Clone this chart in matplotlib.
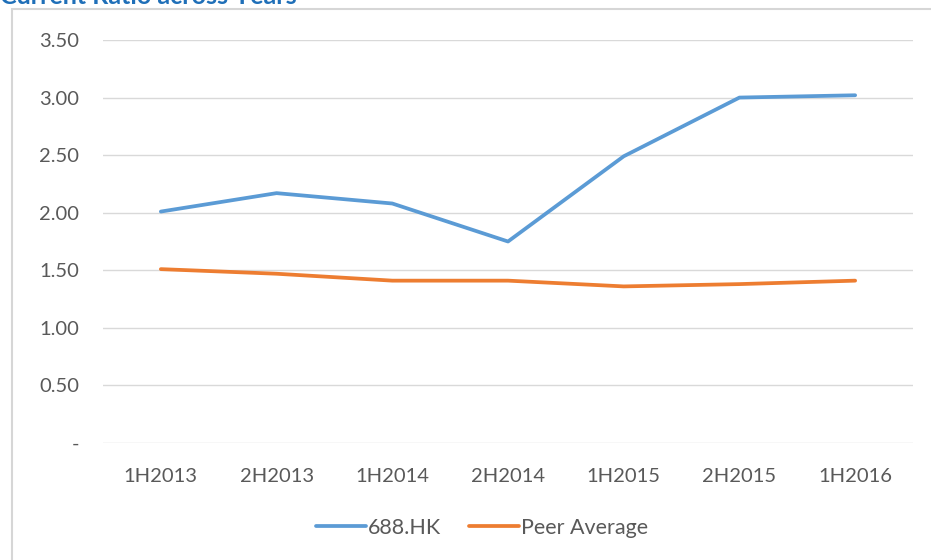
import numpy as np
import matplotlib.pyplot as plt
from matplotlib.patches import Rectangle
from matplotlib.ticker import FuncFormatter

periods = ["1H2013", "2H2013", "1H2014", "2H2014", "1H2015", "2H2015", "1H2016"]
company = [2.01, 2.17, 2.08, 1.75, 2.49, 3.00, 3.02]
peer_avg = [1.51, 1.47, 1.41, 1.41, 1.36, 1.38, 1.41]
yticks = [0, 0.5, 1.0, 1.5, 2.0, 2.5, 3.0, 3.5]

plt.rcParams["font.family"] = ["Lato", "DejaVu Sans"]

W, H = 931, 560
fig = plt.figure(figsize=(W / 100, H / 100), dpi=100)
ax = fig.add_axes([103 / W, 117 / H, 810 / W, 403 / H])

# chart frame (only left/top edges visible in the crop)
fig.patches.append(Rectangle((12 / W, -0.1), 1.2, 1.1 - 9 / H, transform=fig.transFigure,
                             fill=False, edgecolor="#D6D6D6", linewidth=1.5))

# title, mostly cut off at the top edge
fig.text(0.0, 1 - 4 / H, "Current Ratio across Years", color="#1F6FB8",
         fontsize=18, fontweight="bold", va="baseline", ha="left")

x = np.arange(len(periods))
ax.plot(x, company, color="#5B9BD5", linewidth=2.7, label="688.HK", solid_capstyle="round")
ax.plot(x, peer_avg, color="#ED7D31", linewidth=2.7, label="Peer Average", solid_capstyle="round")

ax.set_xlim(-0.5, len(periods) - 0.5)
ax.set_ylim(0, 3.5)
ax.set_yticks(yticks)
ax.yaxis.set_major_formatter(FuncFormatter(lambda v, p: "-" if v == 0 else f"{v:.2f}"))
ax.set_xticks(x)
ax.set_xticklabels(periods)
ax.grid(axis="y", color="#D9D9D9", linewidth=1)
ax.set_axisbelow(True)
for s in ax.spines.values():
    s.set_visible(False)
ax.tick_params(axis="both", length=0, labelsize=14.5, colors="#595959")
ax.tick_params(axis="y", pad=17)
ax.tick_params(axis="x", pad=18)

leg = fig.legend(loc="center", bbox_to_anchor=(482 / W, 1 - 528 / H), ncol=2, frameon=False,
                 fontsize=15.5, handlelength=2.3, handletextpad=0.1, columnspacing=1.3)
for t in leg.get_texts():
    t.set_color("#595959")

fig.savefig("out.png", dpi=100)
